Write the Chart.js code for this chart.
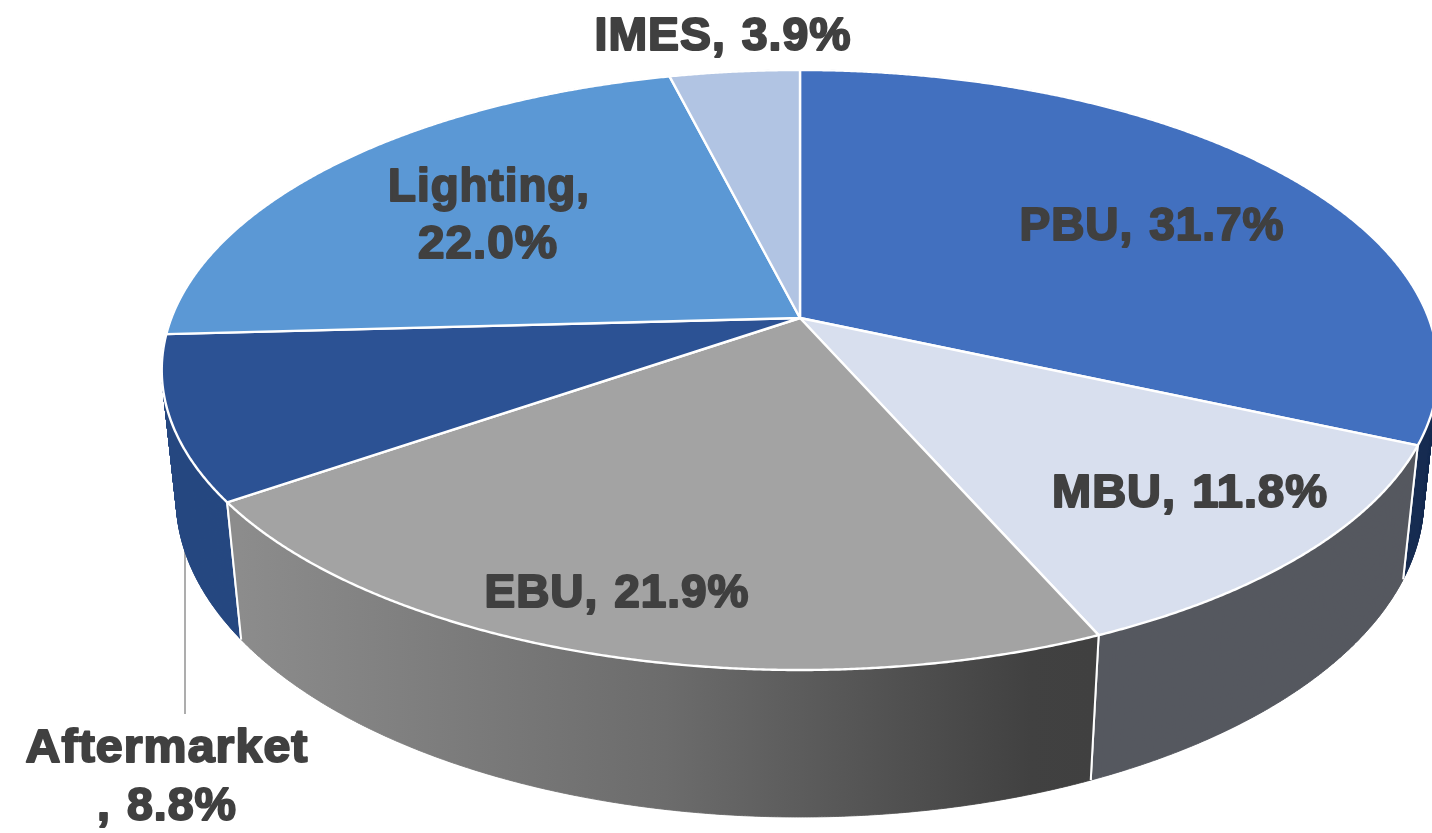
<!DOCTYPE html>
<html>
<head>
<meta charset="utf-8">
<style>html,body{margin:0;padding:0;background:#fff}canvas{display:block}</style>
<script src="https://cdn.jsdelivr.net/npm/chart.js@4"></script>
</head>
<body>
<canvas id="c" width="1432" height="833"></canvas>
<script>
const categories = ['PBU', 'MBU', 'EBU', 'Aftermarket', 'Lighting', 'IMES'];
const shares = [31.7, 11.8, 21.9, 8.8, 22.0, 3.9];
const topColors = ['#4270BF', '#D8DFEE', '#A3A3A3', '#2C5294', '#5B98D5', '#B1C4E3'];
const wallColors = ['#172C52', '#55585F', null, '#264880', '#3A6A9E', '#7A8CA8'];
const labelLayout = [
  {lines: [[1152, 240, 265]]},
  {lines: [[1190, 507, 276]]},
  {lines: [[617, 607, 265]]},
  {lines: [[167, 762, 283], [167, 820, 140]], split: 'Aftermarket'.length},
  {lines: [[489, 201, 202], [488, 258, 140]], split: 'Lighting,'.length, skipSpace: true},
  {lines: [[723, 50, 257]]}
];

// Perspective of the tilted disc
const kPersp = 0.1733, sx = 628.6, sy = 291, vanishY = 6100, vanishX = 800;

function project(arc, a) {
  const u = Math.cos(a), v = Math.sin(a), w = 1 - kPersp * v;
  return [arc.x + sx * u / w, arc.y + sy * v / w];
}
function lower(p) {
  const dy = 145 + (p[1] - 635) * 0.0576;
  return [p[0] + (vanishX - p[0]) * dy / (vanishY - p[1]), p[1] + dy];
}
function angles(arc) {
  const out = [], n = Math.max(2, Math.ceil((arc.endAngle - arc.startAngle) / 0.004));
  for (let i = 0; i <= n; i++) out.push(arc.startAngle + (arc.endAngle - arc.startAngle) * i / n);
  return out;
}
function tracePts(ctx, pts, first) {
  pts.forEach((p, i) => (i === 0 && first) ? ctx.moveTo(p[0], p[1]) : ctx.lineTo(p[0], p[1]));
}
function wallFill(ctx, i) {
  if (wallColors[i]) return wallColors[i];
  const g = ctx.createLinearGradient(240, 0, 1090, 0);
  g.addColorStop(0, '#8C8C8C'); g.addColorStop(0.5, '#6C6C6C'); g.addColorStop(0.93, '#414141'); g.addColorStop(1, '#404040');
  return g;
}

const disc3d = {
  id: 'disc3d',
  beforeDatasetDraw(chart) {
    const ctx = chart.ctx, arcs = chart.getDatasetMeta(0).data;
    ctx.save();
    ctx.lineJoin = 'round';
    // leader line
    ctx.strokeStyle = '#ADADAD'; ctx.lineWidth = 2;
    ctx.beginPath(); ctx.moveTo(185, 540); ctx.lineTo(185, 714); ctx.stroke();
    // side walls, back to front
    [4, 5, 0, 3, 1, 2].forEach(i => {
      const arc = arcs[i], as = angles(arc), pts = as.map(a => project(arc, a)), low = pts.map(lower);
      const fill = wallFill(ctx, i);
      ctx.fillStyle = fill; ctx.strokeStyle = fill; ctx.lineWidth = 0.8;
      ctx.beginPath();
      for (let k = 0; k < pts.length - 1; k++) {
        ctx.moveTo(pts[k][0], pts[k][1]); ctx.lineTo(pts[k + 1][0], pts[k + 1][1]);
        ctx.lineTo(low[k + 1][0], low[k + 1][1]); ctx.lineTo(low[k][0], low[k][1]); ctx.closePath();
      }
      ctx.fill(); ctx.stroke();
      // white seams: the two cut edges, on the visible front part only
      ctx.strokeStyle = '#fff'; ctx.lineWidth = 2;
      ctx.beginPath();
      [0, as.length - 1].forEach(k => {
        if (Math.sin(as[k]) > 0.2) { ctx.moveTo(pts[k][0], pts[k][1]); ctx.lineTo(low[k][0], low[k][1]); }
      });
      ctx.stroke();
    });
    // top faces
    arcs.forEach((arc, i) => {
      ctx.beginPath(); ctx.moveTo(arc.x, arc.y);
      tracePts(ctx, angles(arc).map(a => project(arc, a)), false); ctx.closePath();
      ctx.fillStyle = topColors[i]; ctx.fill();
      ctx.strokeStyle = '#fff'; ctx.lineWidth = 2.4; ctx.stroke();
    });
    ctx.restore();
    return false;
  },
  afterDatasetsDraw(chart) {
    const ctx = chart.ctx;
    ctx.save();
    ctx.font = 'bold 46px "Liberation Sans", Arial, sans-serif';
    ctx.letterSpacing = '1px'; ctx.wordSpacing = '2px';
    ctx.textAlign = 'center'; ctx.textBaseline = 'alphabetic';
    ctx.fillStyle = '#404040'; ctx.strokeStyle = '#404040'; ctx.lineWidth = 2; ctx.lineJoin = 'round';
    categories.forEach((cat, i) => {
      const full = cat + ', ' + shares[i].toFixed(1) + '%', L = labelLayout[i];
      const parts = L.split ? [full.slice(0, L.split), full.slice(L.split + (L.skipSpace ? 1 : 0))] : [full];
      parts.forEach((t, j) => {
        const [cx, base, width] = L.lines[j];
        ctx.save();
        ctx.translate(cx, base);
        ctx.scale(width / ctx.measureText(t).width, 1);
        ctx.fillText(t, 0, 0); ctx.strokeText(t, 0, 0);
        ctx.restore();
      });
    });
    ctx.restore();
  }
};

new Chart(document.getElementById('c'), {
  type: 'pie',
  data: {labels: categories, datasets: [{data: shares, backgroundColor: topColors, borderColor: '#fff', borderWidth: 2}]},
  options: {
    responsive: false, maintainAspectRatio: false, animation: false,
    layout: {padding: {left: 482, right: 314, top: 0, bottom: 197}},
    plugins: {legend: {display: false}, tooltip: {enabled: false}, title: {display: false}}
  },
  plugins: [disc3d]
});
</script>
</body>
</html>
